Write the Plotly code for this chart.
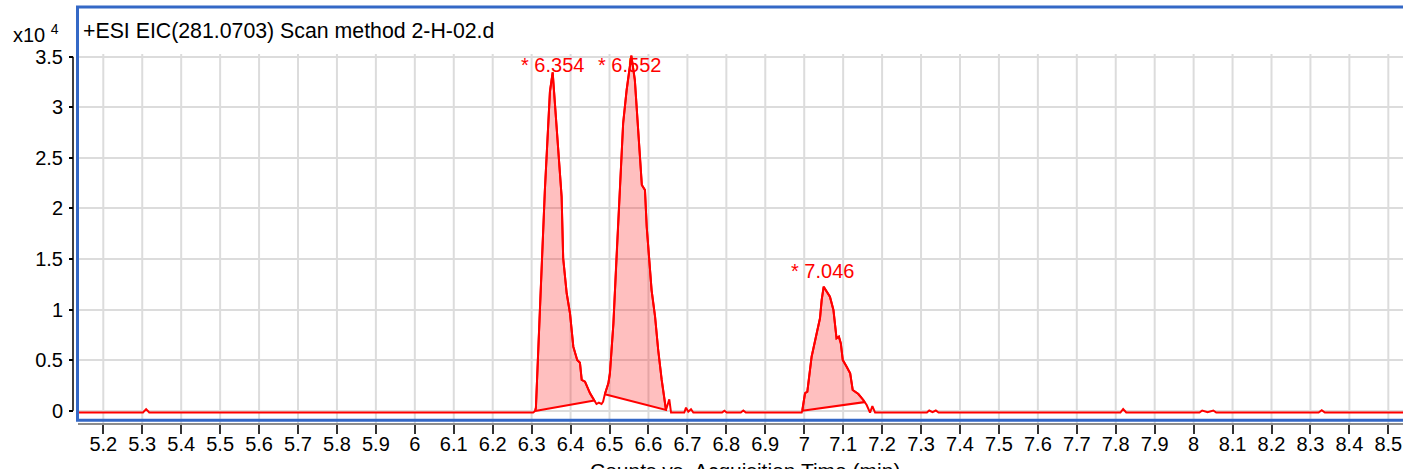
import numpy as np
import plotly.graph_objects as go

# ---------------- data ----------------
time_min = [
    5.130, 5.302, 5.310, 5.318,
    6.304, 6.309, 6.311, 6.3215, 6.334, 6.347, 6.354, 6.377, 6.381, 6.390,
    6.3985, 6.407, 6.417, 6.424, 6.4286, 6.437, 6.443, 6.450, 6.461, 6.4666,
    6.4725, 6.4794, 6.4835,
    6.488, 6.497, 6.501, 6.510, 6.518, 6.527, 6.535, 6.544, 6.551, 6.556,
    6.565, 6.574, 6.583, 6.591, 6.5955, 6.608, 6.617, 6.625, 6.634, 6.645,
    6.6535, 6.658, 6.692, 6.6964, 6.7023, 6.7093, 6.7152,
    6.789, 6.795, 6.801, 6.837, 6.8436, 6.850,
    6.9935, 6.995, 7.002, 7.008, 7.019, 7.032, 7.0405, 7.0449, 7.050, 7.066,
    7.075, 7.083, 7.089, 7.094, 7.099, 7.109, 7.118, 7.1245, 7.139, 7.1517,
    7.155, 7.1604, 7.169, 7.175, 7.182,
    7.315, 7.321, 7.3295, 7.338, 7.345,
    7.812, 7.819, 7.827,
    8.015, 8.022, 8.036, 8.0506, 8.058,
    8.321, 8.329, 8.337, 8.540,
]
counts = [
    -180, -180, 150, -180,
    -180, -30, 300, 10280, 21820, 31540, 33460, 21160, 15070, 11610,
    9630, 6330, 5010, 4750, 3040, 2870, 2370, 1720, 1000, 660,
    790, 660, 890,
    1620, 2710, 3700, 8640, 15230, 22480, 28420, 31710, 33690, 35100,
    32700, 27430, 22320, 21820, 18190, 11930, 9290, 6000, 3040, 70,
    1130, -180, -180, 300, -100, 140, -180,
    -180, 0, -180, -180, 20, -180,
    -180, 0, 1720, 1880, 5340, 7650, 9140, 10950, 12260, 11270,
    9960, 7160, 7320, 6660, 5010, 4350, 3700, 2050, 1650, 1060,
    850, 560, -200, 460, -180,
    -180, 20, -150, 20, -180,
    -180, 170, -180,
    -180, 20, -150, 20, -180,
    -180, 50, -180, -180,
]

# integrated peaks (start / end of the drawn integration baseline)
integ_start = [6.309, 6.488, 6.995]
integ_end = [6.461, 6.645, 7.155]
peak_labels = ["* 6.354", "* 6.552", "* 7.046"]
peak_label_time = [6.354, 6.552, 7.046]

x_tick_labels = ["5.2", "5.3", "5.4", "5.5", "5.6", "5.7", "5.8", "5.9", "6",
                 "6.1", "6.2", "6.3", "6.4", "6.5", "6.6", "6.7", "6.8", "6.9", "7",
                 "7.1", "7.2", "7.3", "7.4", "7.5", "7.6", "7.7", "7.8", "7.9", "8",
                 "8.1", "8.2", "8.3", "8.4", "8.5"]
y_tick_labels = ["0", "0.5", "1", "1.5", "2", "2.5", "3", "3.5"]
y_scale = 1e4

title_text = "+ESI EIC(281.0703) Scan method 2-H-02.d"
x_title = "Counts vs. Acquisition Time (min)"

# ---------------- layout geometry (pixels) ----------------
W, H = 1403, 469
ML, MR, MT, MB = 73, 0, 7, 46
PW = W - ML - MR
PH = H - MT - MB
plot_left_px = 78


def px_x(px):
    return (px - ML) / PW


def px_y(py):
    return (H - MB - py) / PH


FONT = "Liberation Sans, Arial, sans-serif"
RED = "#ff0000"
GRID = "#dcdcdc"
BLUE = "#3468c6"

t = np.array(time_min)
c = np.array(counts, dtype=float)
x_ticks = [float(s) for s in x_tick_labels]
y_ticks = [float(s) * y_scale for s in y_tick_labels]

# x range: 5.2 at px 103.3, 389.4 px per minute
ppm = 389.4
x0 = 5.2 - (103.3 - plot_left_px) / ppm
x1 = x0 + (W - MR - plot_left_px) / ppm
# y range: 0 at px 410.7, 101.14 px per 1e4 counts
ppc = 101.14 / y_scale
y_top = (410.7 - MT) / ppc
y_bot = (410.7 - (H - MB)) / ppc

fig = go.Figure()

# shaded integrated areas with their integration baselines
for s, e in zip(integ_start, integ_end):
    m = (t >= s - 1e-9) & (t <= e + 1e-9)
    xs = list(t[m]) + [t[m][0]]
    ys = list(c[m]) + [c[m][0]]
    fig.add_trace(go.Scatter(x=xs, y=ys, mode="lines", fill="toself",
                             fillcolor="rgba(255,0,0,0.25)",
                             line=dict(color=RED, width=2),
                             hoverinfo="skip", showlegend=False))

# chromatogram
fig.add_trace(go.Scatter(x=time_min, y=counts, mode="lines",
                         line=dict(color=RED, width=2), showlegend=False))

shapes = []
# vertical gridlines (start just above the 3.5 line)
for xv in x_ticks:
    shapes.append(dict(type="line", xref="x", yref="y", x0=xv, x1=xv,
                       y0=y_bot, y1=(410.7 - 54) / ppc,
                       line=dict(color=GRID, width=2), layer="below"))
# y axis line
shapes.append(dict(type="line", xref="paper", yref="y", x0=0, x1=0,
                   y0=y_ticks[0], y1=y_ticks[-1],
                   line=dict(color="black", width=1.5)))
# blue frame
shapes.append(dict(type="rect", xref="paper", yref="paper",
                   x0=px_x(77.5), x1=1.02, y0=px_y(420.3), y1=px_y(7),
                   line=dict(color=BLUE, width=3)))

annotations = []
label_y = [(410.7 - 65) / ppc, (410.7 - 65) / ppc, (410.7 - 271) / ppc]
for txt, xv, yv in zip(peak_labels, peak_label_time, label_y):
    annotations.append(dict(x=xv, y=yv, xref="x", yref="y", text=txt,
                            showarrow=False, xanchor="center", yanchor="middle",
                            font=dict(family=FONT, size=20, color=RED)))
annotations.append(dict(x=px_x(81), y=px_y(31), xref="paper", yref="paper",
                        text=title_text, showarrow=False, xanchor="left",
                        yanchor="middle",
                        font=dict(family=FONT, size=21.3, color="black")))
annotations.append(dict(x=px_x(11), y=px_y(33), xref="paper", yref="paper",
                        text="x10 <sup>4</sup>", showarrow=False, xanchor="left",
                        yanchor="middle",
                        font=dict(family=FONT, size=20, color="black")))
annotations.append(dict(x=px_x(745), y=px_y(470), xref="paper", yref="paper",
                        text=x_title, showarrow=False, xanchor="center",
                        yanchor="middle",
                        font=dict(family=FONT, size=21, color="black")))

fig.update_layout(
    width=W, height=H,
    margin=dict(l=ML, r=MR, t=MT, b=MB, pad=0, autoexpand=False),
    paper_bgcolor="white", plot_bgcolor="white",
    showlegend=False, hovermode=False,
    font=dict(family=FONT, size=20, color="black"),
    xaxis=dict(domain=[px_x(plot_left_px), 1], range=[x0, x1],
               tickvals=x_ticks, ticktext=x_tick_labels,
               showgrid=False, zeroline=False, automargin=False,
               showline=True, linecolor="#8c8c8c", linewidth=2,
               ticks="outside", ticklen=9, tickwidth=1.5, tickcolor="#333333",
               ticklabelstandoff=-7,
               tickfont=dict(family=FONT, size=20, color="black")),
    yaxis=dict(range=[y_bot, y_top], anchor="free", position=0,
               tickvals=y_ticks, ticktext=y_tick_labels,
               showgrid=True, gridcolor=GRID, gridwidth=2, zeroline=False,
               showline=False, automargin=False,
               ticks="outside", ticklen=4, tickwidth=1.5, tickcolor="black",
               ticklabelstandoff=2,
               tickfont=dict(family=FONT, size=20, color="black")),
    shapes=shapes,
    annotations=annotations,
)

# remove the default 8px page margin so the figure sits at the window corner
fig.write_html("out.html",
               config={"displayModeBar": False},
               post_script="document.body.style.margin='0px';"
                           "document.body.style.overflow='hidden';")
